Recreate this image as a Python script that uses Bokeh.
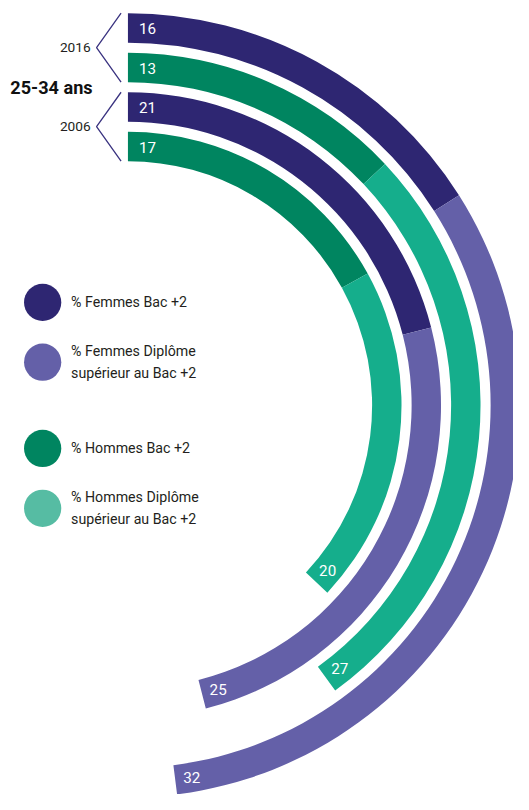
import numpy as np
from bokeh.plotting import figure
from bokeh.models import Range1d
from bokeh.core.properties import value
from bokeh.embed import file_html
from bokeh.resources import INLINE

# ---- data ----
years = ["2016", "2006"]
ring_years = ["2016", "2016", "2006", "2006"]
ring_sex = ["Femmes", "Hommes", "Femmes", "Hommes"]
bac2 = [16, 13, 21, 17]          # % Bac +2
sup_bac2 = [32, 27, 25, 20]      # % Diplôme supérieur au Bac +2
age_label = "25-34 ans"
legend_labels = [
    ["% Femmes Bac +2"],
    ["% Femmes Diplôme", "supérieur au Bac +2"],
    ["% Hommes Bac +2"],
    ["% Hommes Diplôme", "supérieur au Bac +2"],
]

# ---- style ----
C_F_DARK = "#2E2672"
C_F_LIGHT = "#6460A8"
C_H_DARK = "#008560"
C_H_LIGHT = "#15AE8C"
C_H_LIGHT_LEG = "#56BCA3"
FONT = "Roboto, 'Liberation Sans', sans-serif"
dark = {"Femmes": C_F_DARK, "Hommes": C_H_DARK}
light = {"Femmes": C_F_LIGHT, "Hommes": C_H_LIGHT}

W, H = 513, 794
S = H / 810.0                      # screen px per design unit
CX, CY = 130.0, 413.0              # centre in design units (from top-left)

def fs(px):
    return "%.1fpx" % (px * S)

p = figure(width=W, height=H, output_backend="svg", toolbar_location=None,
           x_range=Range1d(-CX, -CX + W / S), y_range=Range1d(CY - H / S, CY),
           min_border=0, border_fill_color="white", background_fill_color="white")
p.axis.visible = False
p.grid.visible = False
p.outline_line_color = None

R0 = 400.0
STEP = 40.3
THICK = 30.0

def to_bokeh(theta):
    return np.pi / 2 - theta

for i in range(len(bac2)):
    ro = R0 - i * STEP
    ri = ro - THICK
    rm = (ro + ri) / 2
    t1 = bac2[i] / 100 * 2 * np.pi
    t2 = (bac2[i] + sup_bac2[i]) / 100 * 2 * np.pi
    col_d = dark[ring_sex[i]]
    col_l = light[ring_sex[i]]
    p.annular_wedge(x=0, y=0, inner_radius=ri, outer_radius=ro,
                    start_angle=to_bokeh(0), end_angle=to_bokeh(t1),
                    direction="clock", fill_color=col_d, line_color=None)
    p.annular_wedge(x=0, y=0, inner_radius=ri, outer_radius=ro,
                    start_angle=to_bokeh(t1), end_angle=to_bokeh(t2),
                    direction="clock", fill_color=col_l, line_color=None)
    # start label
    ts = 20 / rm
    p.text(x=[rm * np.sin(ts)], y=[rm * np.cos(ts)], text=[str(bac2[i])],
           text_color="white", text_font=value(FONT), text_font_size=fs(15.5),
           text_align="center", text_baseline="middle")
    # end label
    te = t2 - 17 / rm
    p.text(x=[rm * np.sin(te)], y=[rm * np.cos(te)], text=[str(sup_bac2[i])],
           text_color="white", text_font=value(FONT), text_font_size=fs(15.5),
           text_align="center", text_baseline="middle")

# year brackets
for g, yr in enumerate(years):
    top = R0 - (2 * g) * STEP
    bot = R0 - (2 * g + 1) * STEP - THICK
    mid = (top + bot) / 2
    p.line(x=[-7, -32, -7], y=[top, mid, bot], line_color="#3A3380", line_width=1.3)
    p.text(x=[-38], y=[mid], text=[yr], text_color="#231F20",
           text_font=value(FONT), text_font_size=fs(14),
           text_align="right", text_baseline="middle")

gap_mid = (R0 - STEP - THICK + R0 - 2 * STEP) / 2
p.text(x=[-120], y=[gap_mid], text=[age_label], text_color="#111111",
       text_font=value(FONT), text_font_size=fs(18.5), text_font_style="bold",
       text_align="left", text_baseline="middle")

# legend
leg_colors = [C_F_DARK, C_F_LIGHT, C_H_DARK, C_H_LIGHT_LEG]
leg_y = [105, 44, -44, -105]
for c, yy, labs in zip(leg_colors, leg_y, legend_labels):
    p.scatter(x=[-87], y=[yy], size=38 * S, marker="circle", fill_color=c, line_color=None)
    n = len(labs)
    for k, lab in enumerate(labs):
        ty = yy + (n - 1) * 11 - k * 22
        p.text(x=[-58], y=[ty], text=[lab], text_color="#231F20",
               text_font=value(FONT), text_font_size=fs(14.5),
               text_align="left", text_baseline="middle")

open("out.html", "w").write(file_html(p, INLINE))
